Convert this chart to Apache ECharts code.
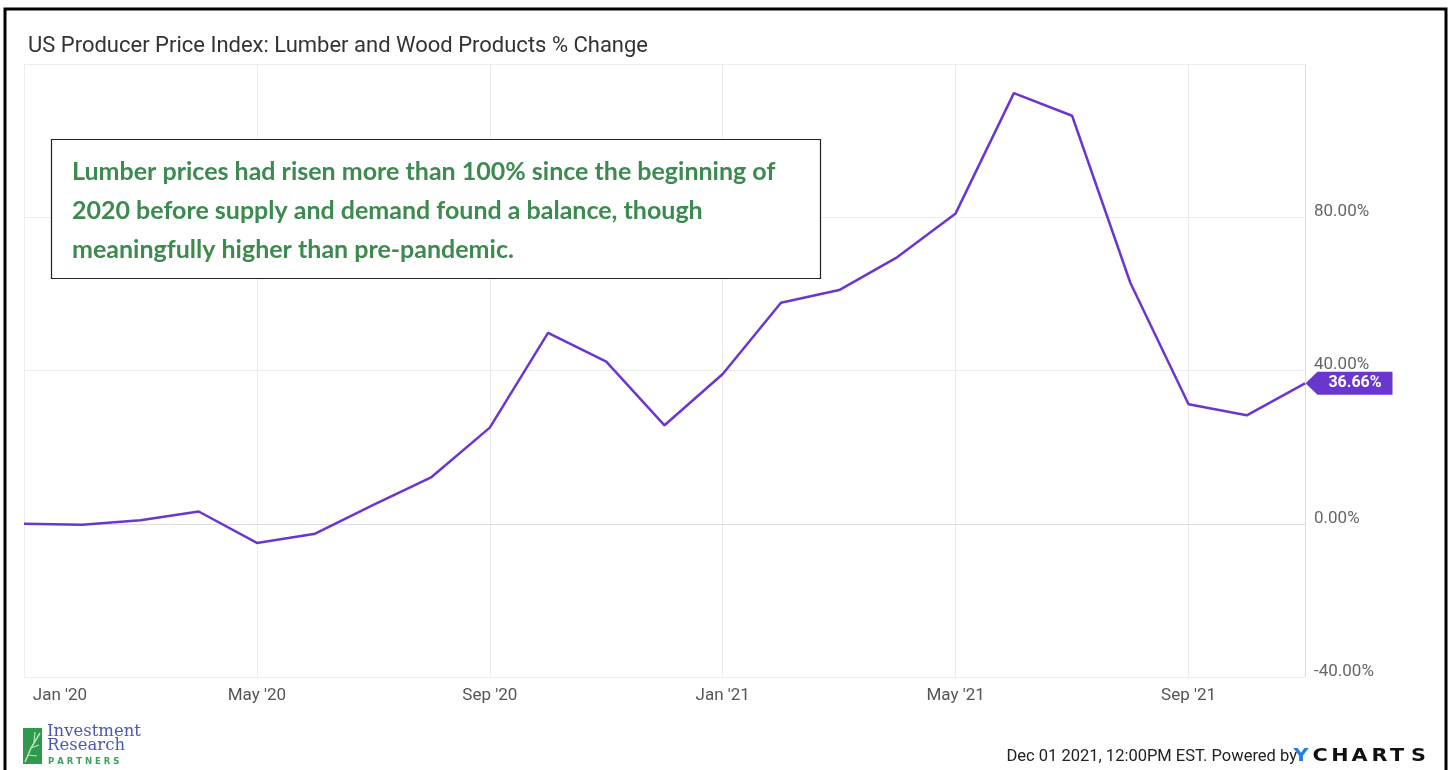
<!DOCTYPE html>
<html>
<head>
<meta charset="utf-8">
<script src="https://cdn.jsdelivr.net/npm/echarts@6/dist/echarts.min.js"></script>
<style>
html,body{margin:0;padding:0;background:#fff;}
#chart{width:1448px;height:770px;}
</style>
</head>
<body>
<div id="chart"></div>
<script>
var months = ["Jan '20","Feb '20","Mar '20","Apr '20","May '20","Jun '20","Jul '20","Aug '20","Sep '20","Oct '20","Nov '20","Dec '20",
              "Jan '21","Feb '21","Mar '21","Apr '21","May '21","Jun '21","Jul '21","Aug '21","Sep '21","Oct '21","Nov '21"];
var pctChange = [0, -0.26, 0.9, 3.2, -5.0, -2.6, 4.9, 12.2, 25.1, 49.8, 42.3, 25.7,
                 39.1, 57.7, 61.0, 69.6, 81.0, 112.4, 106.5, 62.9, 31.2, 28.3, 36.66];
var yTicks = [-40, 0, 40, 80, 120];
var titleText = "US Producer Price Index: Lumber and Wood Products % Change";
var noteLines = ["Lumber prices had risen more than 100% since the beginning of",
                 "2020 before supply and demand found a balance, though",
                 "meaningfully higher than pre-pandemic."];
var footerText = "Dec 01 2021, 12:00PM EST. Powered by";
var brandLetters = ["Y","C","H","A","R","T","S"];

var lineColor = '#6a36d0';
var chart = echarts.init(document.getElementById('chart'), null, {renderer:'canvas'});

var brandX = [1301, 1320, 1340, 1359.5, 1379.5, 1397, 1418.5];
var brandGraphics = brandLetters.map(function(l, i){
  return {type:'text', x: brandX[i], y: 757, z: 10, scaleX: 1.22,
    style:{text:l, fill: i===0 ? '#1e7fe6' : '#111', font:'900 17px "DejaVu Sans"', textAlign:'center', textVerticalAlign:'middle'}};
});

var option = {
  animation:false,
  title:{text:titleText, left:23, top:30, textStyle:{fontFamily:'Roboto', fontSize:22, fontWeight:'normal', color:'#333'}},
  grid:{left:24, right:143, top:64, bottom:93, containLabel:false},
  xAxis:{
    type:'category', data:months, boundaryGap:false,
    axisLine:{show:true, lineStyle:{color:'#dcdcdc', width:1}},
    axisTick:{show:false},
    axisLabel:{interval:3, color:'#555', fontFamily:'Roboto', fontSize:17, margin:10,
      formatter:function(v, i){ return i===0 ? '{first|'+v+'}' : v; },
      rich:{first:{padding:[0,0,0,72], color:'#555', fontFamily:'Roboto', fontSize:17}}},
    splitLine:{show:true, interval:3, lineStyle:{color:'#ececec', width:1}}
  },
  yAxis:{
    type:'value', position:'right', min:yTicks[0], max:yTicks[yTicks.length-1], interval:40,
    axisLine:{show:true, lineStyle:{color:'#dcdcdc'}},
    axisTick:{show:false},
    axisLabel:{color:'#666', fontFamily:'Roboto', fontSize:17, lineHeight:11, margin:9, verticalAlign:'bottom', showMaxLabel:false,
      formatter:function(v){ return v===yTicks[yTicks.length-1] ? '' : v.toFixed(2)+'%'; }},
    splitLine:{show:true, lineStyle:{color:'#ececec', width:1}}
  },
  series:[{
    type:'line', data:pctChange, showSymbol:false, symbol:'none',
    lineStyle:{color:lineColor, width:2.5},
    itemStyle:{color:lineColor},
    markPoint:{
      symbol:'path://M0,11.5 L12,0 L87,0 L87,23 L12,23 Z',
      symbolSize:[87,23], symbolKeepAspect:false, symbolOffset:[44,0],
      itemStyle:{color:'#6a36d0'},
      label:{show:true, position:'inside', offset:[6,0], color:'#fff', fontFamily:'Roboto', fontWeight:'bold', fontSize:16,
        formatter:function(p){ return p.value.toFixed(2)+'%'; }},
      data:[{coord:[months.length-1, pctChange[pctChange.length-1]], value:pctChange[pctChange.length-1]}]
    }
  }],
  graphic:[
    {type:'rect', shape:{x:5, y:9, width:1441, height:790}, style:{fill:'none', stroke:'#000', lineWidth:3}, z:100},
    {type:'rect', shape:{x:51.5, y:139.5, width:769, height:139}, style:{fill:'#fff', stroke:'#222', lineWidth:1.2}, z:50},
    {type:'text', x:72, y:152, z:51, style:{text:noteLines.join('\n'), fill:'#3d8a50', font:'bold 25px Lato', lineHeight:39}},
    {type:'text', x:1297, y:757, z:10, style:{text:footerText, fill:'#222', font:'16.5px Roboto', textAlign:'right', textVerticalAlign:'middle'}},
    // logo
    {type:'rect', shape:{x:23, y:728, width:19, height:36}, style:{fill:'#2f9a4c'}, z:10},
    {type:'polyline', shape:{points:[[25,762],[31,748],[40,733]]}, style:{stroke:'#bfe3c4', lineWidth:1.5, fill:'none'}, z:11},
    {type:'polyline', shape:{points:[[31,748],[39,745]]}, style:{stroke:'#bfe3c4', lineWidth:1.2, fill:'none'}, z:11},
    {type:'polyline', shape:{points:[[28,755],[37,756]]}, style:{stroke:'#bfe3c4', lineWidth:1.2, fill:'none'}, z:11},
    {type:'polyline', shape:{points:[[34,742],[35,732]]}, style:{stroke:'#bfe3c4', lineWidth:1.2, fill:'none'}, z:11},
    {type:'text', x:47, y:725, z:10, style:{text:'Investment\nResearch', fill:'#4a58ad', font:'16.5px "DejaVu Serif"', lineHeight:14}},
    {type:'text', x:48, y:757, z:10, style:{text:'P A R T N E R S', fill:'#39a35a', font:'bold 8.5px "DejaVu Sans"'}}
  ].concat(brandGraphics)
};
chart.setOption(option);
</script>
</body>
</html>
